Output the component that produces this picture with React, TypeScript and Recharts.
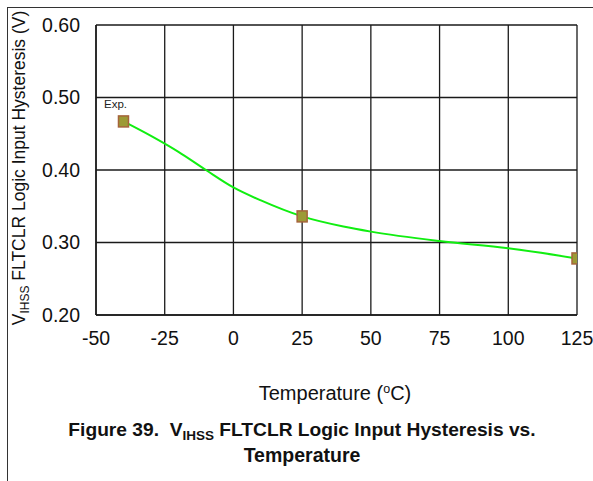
import React from "react"
import { ComposedChart, Line, Scatter, XAxis, YAxis, CartesianGrid } from "recharts"

// smoothed fit curve
const curveTemps = [-40, -30, -20, -10, 0, 10, 25, 40, 50, 75, 100, 125]
const curveVolts = [0.467, 0.447, 0.425, 0.4, 0.376, 0.358, 0.336, 0.322, 0.315, 0.302, 0.292, 0.278]

// measured points
const measTemps = [-40, 25, 125]
const measVolts = [0.467, 0.336, 0.278]
const measNotes = ["Exp.", "", ""]

const xTicks = [-50, -25, 0, 25, 50, 75, 100, 125]
const yTicks = [0.2, 0.3, 0.4, 0.5, 0.6]

const FONT = '"Liberation Sans", Arial, sans-serif'

const curve = curveTemps.map((t, i) => ({ t, v: curveVolts[i] }))
const measured = measTemps.map((t, i) => ({ t, v: measVolts[i], note: measNotes[i] }))

function Marker(props: any) {
  const { cx, cy, payload } = props
  if (cx == null || cy == null) return null
  return (
    <g>
      <rect x={cx - 5} y={cy - 5.5} width={10} height={11} fill="#9c9a35" stroke="#a5643a" strokeWidth={1.5} />
      {payload.note ? (
        <text x={cx - 8} y={cy - 13} textAnchor="middle" fontSize={11.5} fontFamily={FONT} fill="#222">
          {payload.note}
        </text>
      ) : null}
    </g>
  )
}

export default function App() {
  return (
    <div style={{ position: "absolute", left: 0, top: 0, width: 593, height: 481, background: "#fff", overflow: "hidden" }}>
      <div
        style={{
          position: "absolute",
          left: 7,
          top: 7,
          width: 600,
          height: 480,
          borderTop: "1.5px solid #333",
          borderLeft: "1.5px solid #333",
        }}
      />
      <ComposedChart
        width={593}
        height={481}
        margin={{ top: 25, right: 16, bottom: 116, left: 36 }}
        style={{ position: "absolute", left: 0, top: 0 }}
      >
        <CartesianGrid stroke="#1a1a1a" strokeWidth={1.3} />
        <XAxis
          type="number"
          dataKey="t"
          domain={[-50, 125]}
          ticks={xTicks}
          allowDataOverflow
          axisLine={{ stroke: "#1a1a1a", strokeWidth: 1.5 }}
          tickLine={false}
          tickSize={14}
          tickMargin={2}
          height={50}
          tick={{ fill: "#111", fontSize: 19.5, fontFamily: FONT }}
        />
        <YAxis
          type="number"
          dataKey="v"
          domain={[0.2, 0.6]}
          ticks={yTicks}
          allowDataOverflow
          axisLine={{ stroke: "#1a1a1a", strokeWidth: 1.5 }}
          tickLine={false}
          tickSize={14}
          tickMargin={2}
          width={60}
          tickFormatter={(v: number) => v.toFixed(2)}
          tick={{ fill: "#111", fontSize: 19.5, fontFamily: FONT }}
        />
        <Line
          data={curve}
          dataKey="v"
          type="monotone"
          stroke="#11ee11"
          strokeWidth={2}
          dot={false}
          activeDot={false}
          isAnimationActive={false}
        />
        <Scatter data={measured} dataKey="v" shape={<Marker />} isAnimationActive={false} />
      </ComposedChart>
      <svg width={593} height={481} style={{ position: "absolute", left: 0, top: 0, pointerEvents: "none" }}>
        <text
          transform="translate(25,168) rotate(-90)"
          textAnchor="middle"
          fontSize={17.5}
          fontFamily={FONT}
          fill="#111"
        >
          V<tspan fontSize={12} dy={4}>IHSS</tspan>
          <tspan dy={-4}> FLTCLR Logic Input Hysteresis (V)</tspan>
        </text>
        <text x={335} y={400} textAnchor="middle" fontSize={20} fontFamily={FONT} fill="#111">
          Temperature (<tspan fontSize={12.5} dy={-7}>o</tspan>
          <tspan dy={7}>C)</tspan>
        </text>
        <text x={302} y={436} textAnchor="middle" fontSize={19.2} fontWeight="bold" fontFamily={FONT} fill="#111">
          Figure 39.{"\u00a0\u00a0"}V<tspan fontSize={13.5} dy={4}>IHSS</tspan>
          <tspan dy={-4}> FLTCLR Logic Input Hysteresis vs.</tspan>
        </text>
        <text x={302} y={462} textAnchor="middle" fontSize={19.5} fontWeight="bold" fontFamily={FONT} fill="#111">
          Temperature
        </text>
      </svg>
    </div>
  )
}
